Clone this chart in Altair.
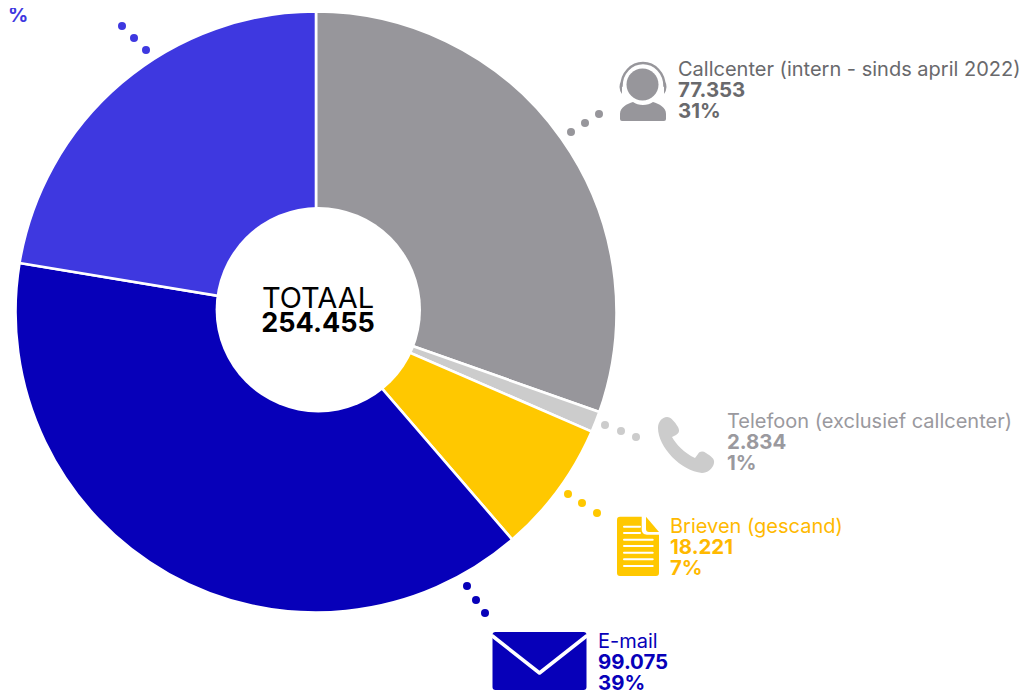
import altair as alt
import pandas as pd

# ---- data -----------------------------------------------------------------
names = ["Callcenter (intern - sinds april 2022)", "Telefoon (exclusief callcenter)",
         "Brieven (gescand)", "E-mail"]
counts = [77353, 2834, 18221, 99075, 56972]
count_labels = ["77.353", "2.834", "18.221", "99.075"]
pct_labels = ["31%", "1%", "7%", "39%"]
slice_colors = ["#97969b", "#cccccc", "#ffc800", "#0700b9", "#3e38e0"]
text_colors = ["#69696c", "#9a999e", "#ffb900", "#0700b9"]
cut_label = "%"
cut_color = "#3e38e0"
total_title = "TOTAAL"
total_label = "254.455"

# annotation anchors in page pixels
label_x = [678, 727, 670, 598]
label_y = [70, 422, 527, 641.5]
dot_x = [[571, 585, 599], [605, 621, 636], [568, 582, 597], [467, 476, 485], [146, 134, 122]]
dot_y = [[132, 123, 114], [425, 431, 437], [494, 503, 513], [586, 600, 613], [50, 38, 26]]

FONT = "Inter"
CX, CY = 316, 312
W, H = 1012, 684

x_scale = alt.Scale(domain=[8, 8 + W], range=[0, W], zero=False, nice=False)
y_scale = alt.Scale(domain=[8, 8 + H], range=[0, H], zero=False, nice=False)
X = alt.X("x:Q", scale=x_scale, axis=None)
Y = alt.Y("y:Q", scale=y_scale, axis=None)

slices = pd.DataFrame({"i": range(5), "v": counts, "c": slice_colors})
pie = alt.Chart(slices).mark_arc(
    outerRadius=300.5, innerRadius=0, stroke="white", strokeWidth=2.6
).encode(
    theta=alt.Theta("v:Q", stack=True),
    order=alt.Order("i:Q"),
    color=alt.Color("c:N", scale=None, legend=None),
    x=alt.value(CX - 8),
    y=alt.value(CY - 8),
)
hole = alt.Chart(pd.DataFrame([{"x": 318.3, "y": 309.7}])).mark_point(
    filled=True, fill="#ffffff", size=42189, opacity=1, strokeWidth=0
).encode(x=X, y=Y)

dots = pd.DataFrame([
    {"x": px, "y": py, "c": slice_colors[i]}
    for i in range(5) for px, py in zip(dot_x[i], dot_y[i])
])
dot_layer = alt.Chart(dots).mark_point(filled=True, size=64, opacity=1, strokeWidth=0).encode(
    x=X, y=Y, color=alt.Color("c:N", scale=None, legend=None)
)

rows = []
for i in range(4):
    rows.append({"x": label_x[i], "y": label_y[i], "t": names[i], "c": text_colors[i], "w": "n"})
    rows.append({"x": label_x[i], "y": label_y[i] + 21, "t": count_labels[i], "c": text_colors[i], "w": "b"})
    rows.append({"x": label_x[i], "y": label_y[i] + 42, "t": pct_labels[i], "c": text_colors[i], "w": "b"})
texts = pd.DataFrame(rows)


def text_layer(df, weight, size, align="left"):
    return alt.Chart(df).mark_text(
        font=FONT, fontSize=size, fontWeight=weight, align=align, baseline="middle"
    ).encode(x=X, y=Y, text="t:N", color=alt.Color("c:N", scale=None, legend=None))


t_normal = text_layer(texts[texts["w"] == "n"], 400, 20)
t_bold = text_layer(texts[texts["w"] == "b"], 700, 20.4)
t_cut = text_layer(pd.DataFrame([{"x": 8, "y": 16, "t": cut_label, "c": cut_color}]), 700, 20)
centre = alt.layer(
    text_layer(pd.DataFrame([{"x": 318, "y": 298.5, "t": total_title, "c": "#000000"}]), 400, 29, "center"),
    text_layer(pd.DataFrame([{"x": 318, "y": 323.5, "t": total_label, "c": "#000000"}]), 700, 27, "center"),
)


def icon(path, x, y, color, filled=True, width=0):
    kw = dict(shape=path, size=4, opacity=1, filled=filled, strokeWidth=width,
              strokeCap="round", strokeJoin="round")
    if filled:
        kw["fill"] = color
    else:
        kw["stroke"] = color
    return alt.Chart(pd.DataFrame([{"x": x, "y": y}])).mark_point(**kw).encode(x=X, y=Y)


icons = [
    # headset person
    icon("M-16.5 -7.5a16 16 0 1 0 32 0a16 16 0 1 0 -32 0Z", 643, 92, "#97969b"),
    icon("M-21.5 -6A21.5 23 0 0 1 21.5 -6", 643, 92, "#97969b", False, 2.5),
    icon("M-21 -12Q-26 -5 -21 2ZM21 -12Q26 -5 21 2Z", 643, 92, "#97969b"),
    icon("M-23 27L-23 22C-23 15 -16 12 -10 10C-5 14 5 14 10 10C16 12 23 15 23 22L23 27Q23 29 21 29L-21 29Q-23 29 -23 27Z",
         643, 92, "#97969b"),
    # telephone
    icon("M-19 -28C-15 -28 -11 -23 -8 -18C-6 -14 -7 -12 -10 -10L-14 -8C-10 -1 -2 8 9 13L12 9C14 6 17 6 20 8C25 11 29 14 28 18C27 24 21 28 16 28C-5 26 -28 2 -28 -17C-28 -23 -24 -28 -19 -28Z",
         686, 445, "#cccccc"),
    # document
    icon("M-18 -29.3L3.7 -29.3L3.7 -17C3.7 -13 6 -11.3 9 -11.3L21 -11.3L21 27Q21 30 18 30L-18 30Q-21 30 -21 27L-21 -26Q-21 -29.3 -18 -29.3Z",
         638, 546, "#ffc800"),
    icon("M8 -29.3L21 -14L11 -14Q8 -14 8 -17Z", 638, 546, "#ffc800"),
    icon("M-14 -19.3H2M-14 -13H2M-14 -6.3H14.7M-14 0H14.7M-14 6.7H14.7M-14 13.3H14.7M-14 20H14.7",
         638, 546, "#ffffff", False, 2),
    # envelope
    icon("M-44 -29L44 -29Q47 -29 47 -26L47 26Q47 29 44 29L-44 29Q-47 29 -47 26L-47 -26Q-47 -29 -44 -29Z",
         539.5, 661, "#0700b9"),
    icon("M-47 -25L0 12L47 -25", 539.5, 661, "#ffffff", False, 3.5),
]

chart = alt.layer(pie, hole, dot_layer, *icons, t_normal, t_bold, t_cut, centre).properties(
    width=W, height=H, padding=0, autosize=alt.AutoSizeParams(type="none")
).configure_view(stroke=None)

chart.save("out.html", embed_options={"renderer": "svg", "actions": False})
